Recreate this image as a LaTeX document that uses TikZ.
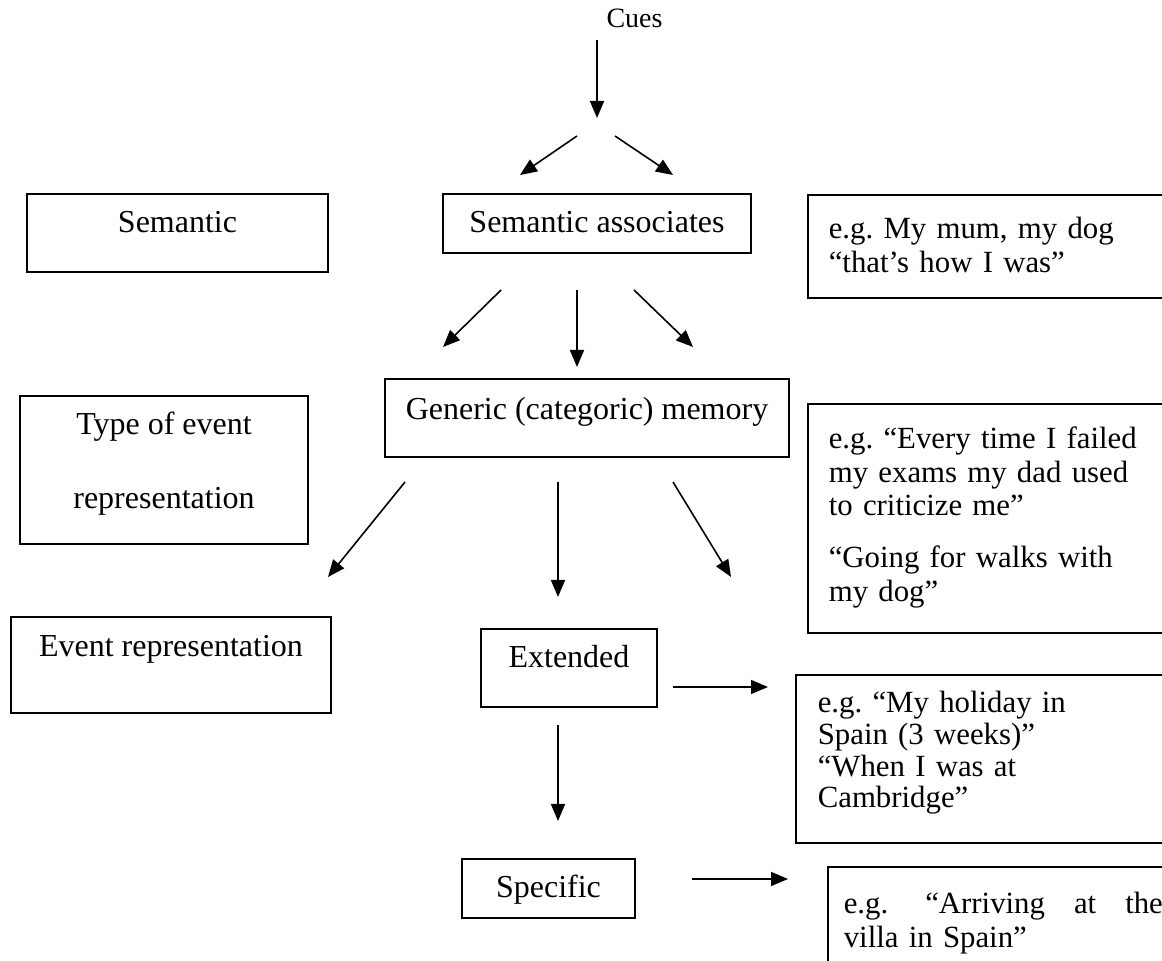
\documentclass[tikz,border=0pt]{standalone}
\usepackage{fontspec}
\setmainfont{Liberation Serif}
\usetikzlibrary{arrows.meta}
\frenchspacing

\newcommand{\topstrut}[1]{\rule{0pt}{#1}}
\newcommand{\botstrut}[1]{\rule[-#1]{0pt}{#1}}

\tikzset{
  box/.style={draw, line width=0.8pt, inner xsep=0pt, inner ysep=0pt, font=\fontsize{16}{16.75}\selectfont},
  examplebox/.style={box, anchor=north west, align=left, text width=200pt, font=\fontsize{15.4}{16.75}\selectfont},
}

\begin{document}
\begin{tikzpicture}[x=0.5pt, y=-0.5pt, line width=0.8pt, >={Triangle[length=8.5pt,width=7pt]}]
  \useasboundingbox (0,0) rectangle (1162,961);
  \clip (0,0) rectangle (1162,961);

  \node[anchor=base, font=\fontsize{14}{16}\selectfont] (cues) at (634.5,28) {Cues};

  \node[box, minimum width=150.5pt] (semantic) at (177.5,233) {\topstrut{19.5pt}Semantic\botstrut{19.5pt}};
  \node[box, minimum width=154pt] (associates) at (597,223.5) {\topstrut{19.5pt}Semantic associates\botstrut{10pt}};
  \node[box, minimum width=144pt, align=center, font=\fontsize{16}{37}\selectfont] (type) at (164,470) {\topstrut{19.5pt}Type of event\\representation\botstrut{17.5pt}};
  \node[box, minimum width=202pt] (generic) at (587,418) {\topstrut{20.5pt}Generic (categoric) memory\botstrut{18.5pt}};
  \node[box, minimum width=160pt] (eventrep) at (171,665) {\topstrut{20pt}Event representation\botstrut{28pt}};
  \node[box, minimum width=88pt] (extended) at (569,668) {\topstrut{19.5pt}Extended\botstrut{19.5pt}};
  \node[box, minimum width=86.5pt] (specific) at (548.5,888.5) {\topstrut{19.5pt}Specific\botstrut{10pt}};

  \node[examplebox, inner xsep=10.5pt, font=\fontsize{15.4}{17}\selectfont] (egassoc) at (807,194) {\topstrut{22pt}e.g. My mum, my dog\\“that’s how I was”\botstrut{12.5pt}};
  \node[examplebox, inner xsep=10.5pt] (eggeneric) at (807,403) {\topstrut{22.5pt}e.g. “Every time I failed\\my exams my dad used\\to criticize me”\\[9.25pt]“Going for walks with\\my dog”\botstrut{16pt}};
  \node[examplebox, inner xsep=11pt, font=\fontsize{15.4}{15.83}\selectfont] (egextended) at (795,674) {\topstrut{19pt}e.g. “My holiday in\\Spain (3 weeks)”\\“When I was at\\Cambridge”\botstrut{17.5pt}};
  \node[examplebox, inner xsep=8pt, font=\fontsize{15.4}{17}\selectfont] (egspecific) at (827,866) {\topstrut{23.5pt}e.g.\hspace{18.5pt}“Arriving\hspace{14.5pt}at\hspace{14.5pt}the\\villa in Spain”\botstrut{30pt}};

  \coordinate (cuesfrom) at (597,40);
  \coordinate (cuesto) at (597,118);
  \coordinate (forkleftfrom) at (577,136);
  \coordinate (forkleftto) at (520,175);
  \coordinate (forkrightfrom) at (615,136);
  \coordinate (forkrightto) at (673,175);
  \coordinate (assocleftfrom) at (501,290);
  \coordinate (assocleftto) at (443,347);
  \coordinate (assocmidfrom) at (577,290);
  \coordinate (assocmidto) at (577,367);
  \coordinate (assocrightfrom) at (634,290);
  \coordinate (assocrightto) at (693,347);
  \coordinate (genleftfrom) at (405,482);
  \coordinate (genleftto) at (328,577);
  \coordinate (genmidfrom) at (558,482);
  \coordinate (genmidto) at (558,597);
  \coordinate (genrightfrom) at (673,482);
  \coordinate (genrightto) at (731,577);
  \coordinate (extrightfrom) at (673,687);
  \coordinate (extrightto) at (768,687);
  \coordinate (extdownfrom) at (558,725);
  \coordinate (extdownto) at (558,821);
  \coordinate (specrightfrom) at (692,879);
  \coordinate (specrightto) at (788,879);

  \draw[->] (cuesfrom) to (cuesto);
  \draw[->] (forkleftfrom) to (forkleftto);
  \draw[->] (forkrightfrom) to (forkrightto);
  \draw[->] (assocleftfrom) to (assocleftto);
  \draw[->] (assocmidfrom) to (assocmidto);
  \draw[->] (assocrightfrom) to (assocrightto);
  \draw[->] (genleftfrom) to (genleftto);
  \draw[->] (genmidfrom) to (genmidto);
  \draw[->] (genrightfrom) to (genrightto);
  \draw[->] (extrightfrom) to (extrightto);
  \draw[->] (extdownfrom) to (extdownto);
  \draw[->] (specrightfrom) to (specrightto);
\end{tikzpicture}
\end{document}
